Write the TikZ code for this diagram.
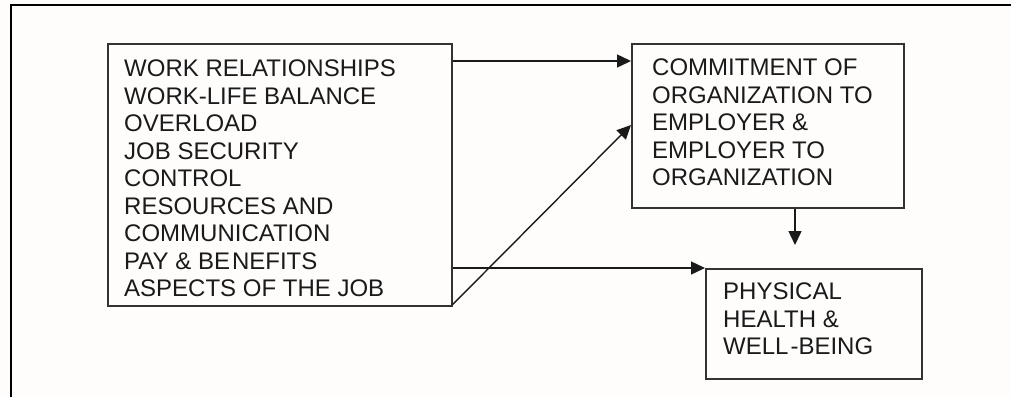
\documentclass[tikz,border=0pt]{standalone}
\usepackage{fontspec}
\setmainfont{Liberation Sans}
\usetikzlibrary{arrows.meta}
\definecolor{paper}{HTML}{FEFDFC}
\definecolor{ink}{HTML}{1A1A1A}
\definecolor{edge}{HTML}{333333}
\begin{document}
\begin{tikzpicture}[x=1pt,y=-1pt,
  box/.style={draw=edge,line width=1.6pt,minimum width=#1,inner sep=0pt,anchor=north west},
  label/.style={anchor=north west,align=left,inner sep=0pt,text=ink,
    font=\fontsize{24}{27.5}\selectfont},
  arr/.style={draw=ink,line width=1.4pt,-{Triangle[length=14pt,width=13pt]}},
  frame/.style={draw=black,line width=2.2pt}]
  \useasboundingbox[fill=paper] (0,0) rectangle (1011,397);
  % outer frame: top and left edges only
  \draw[frame] (11,397) -- (11,5) -- (1011,5);

  % boxes
  \node[box=344pt,minimum height=262pt] (L) at (107,43) {};
  \node[box=272pt,minimum height=164pt] (C) at (631,43) {};
  \node[box=216pt,minimum height=110pt] (P) at (705,268) {};

  % texts
  \node[label] (Lt) at (124,60) {WORK RELATIONSHIPS\\WORK-LIFE BALANCE\\OVERLOAD\\JOB SECURITY\\CONTROL\\RESOURCES AND\\COMMUNICATION\\PAY \& BE\kern2pt NEFITS\\ASPECTS OF THE JOB};
  \node[label] (Ct) at (652,59) {COMMITMENT OF\\ORGANIZATION TO\\EMPLOYER \&\\EMPLOYER TO\\ORGANIZATION};
  \node[label] (Pt) at (723,283) {PHYSICAL\\HEALTH \&\\WELL\kern2pt-BEING};

  % connectors
  \coordinate (vend) at (795,245);
  \draw[arr] ([yshift=-18pt]L.north east) -- ([yshift=-18pt]C.north west);
  \draw[arr] ([yshift=2pt]L.south east) -- ([yshift=-82pt]C.north west);
  \draw[arr] (L.east |- P.north west) -- (P.north west);
  \draw[arr] (C.south -| vend) -- (vend);
\end{tikzpicture}
\end{document}
